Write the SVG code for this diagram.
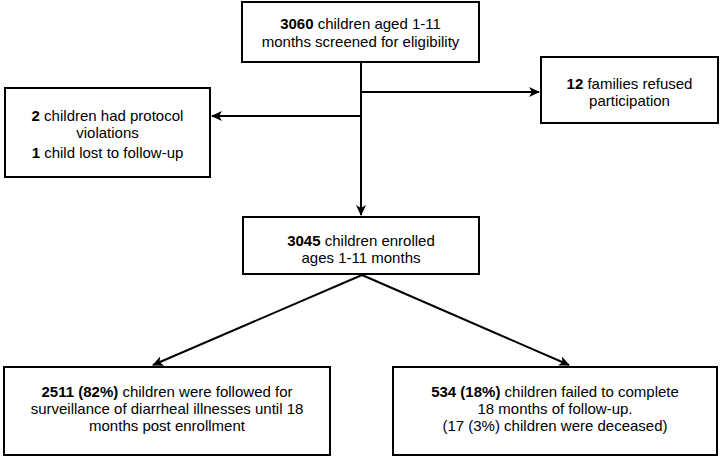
<svg xmlns="http://www.w3.org/2000/svg" width="721" height="457" viewBox="0 0 721 457">
<style>
.box{fill:#fff;stroke:#000;stroke-width:2}
.t{font-family:"Liberation Sans",Arial,sans-serif;font-size:15px;fill:#000;text-anchor:middle}
.b{font-weight:bold}
.c{fill:none;stroke:#000;stroke-width:2}
</style>
<defs>
<marker id="ah" markerWidth="12" markerHeight="10" refX="10" refY="5" orient="auto" markerUnits="userSpaceOnUse">
<path d="M0,0 L11,5 L0,10 L3,5 Z" fill="#000"/>
</marker>
</defs>
<rect width="721" height="457" fill="#fff"/>
<g id="connectors">
<line class="c" x1="361" y1="62" x2="361" y2="215" marker-end="url(#ah)"/>
<line class="c" x1="361" y1="92" x2="539" y2="92" marker-end="url(#ah)"/>
<line class="c" x1="361" y1="116" x2="212" y2="116" marker-end="url(#ah)"/>
<line class="c" x1="362" y1="275" x2="153" y2="365" marker-end="url(#ah)"/>
<line class="c" x1="362" y1="275" x2="569" y2="365" marker-end="url(#ah)"/>
</g>
<g id="screened">
<rect class="box" x="242" y="2" width="237" height="60"/>
<text class="t" x="360.5" y="29"><tspan class="b">3060</tspan> children aged 1-11</text>
<text class="t" x="360.5" y="47">months screened for eligibility</text>
</g>
<g id="refused">
<rect class="box" x="541" y="57" width="177" height="66"/>
<text class="t" x="629.5" y="89"><tspan class="b">12</tspan> families refused</text>
<text class="t" x="629.5" y="106">participation</text>
</g>
<g id="excluded">
<rect class="box" x="5" y="88" width="205" height="89"/>
<text class="t" x="107.5" y="121"><tspan class="b">2</tspan> children had protocol</text>
<text class="t" x="107.5" y="138">violations</text>
<text class="t" x="107.5" y="158"><tspan class="b">1</tspan> child lost to follow-up</text>
</g>
<g id="enrolled">
<rect class="box" x="243" y="217" width="236" height="57"/>
<text class="t" x="361" y="246"><tspan class="b">3045</tspan> children enrolled</text>
<text class="t" x="361" y="263">ages 1-11 months</text>
</g>
<g id="followed">
<rect class="box" x="4" y="367" width="326" height="88"/>
<text class="t" x="167" y="397"><tspan class="b">2511 (82%)</tspan> children were followed for</text>
<text class="t" x="167" y="414">surveillance of diarrheal illnesses until 18</text>
<text class="t" x="167" y="431">months post enrollment</text>
</g>
<g id="failed">
<rect class="box" x="393" y="367" width="324" height="88"/>
<text class="t" x="555" y="397"><tspan class="b">534 (18%)</tspan> children failed to complete</text>
<text class="t" x="555" y="414">18 months of follow-up.</text>
<text class="t" x="555" y="431">(17 (3%) children were deceased)</text>
</g>
</svg>
